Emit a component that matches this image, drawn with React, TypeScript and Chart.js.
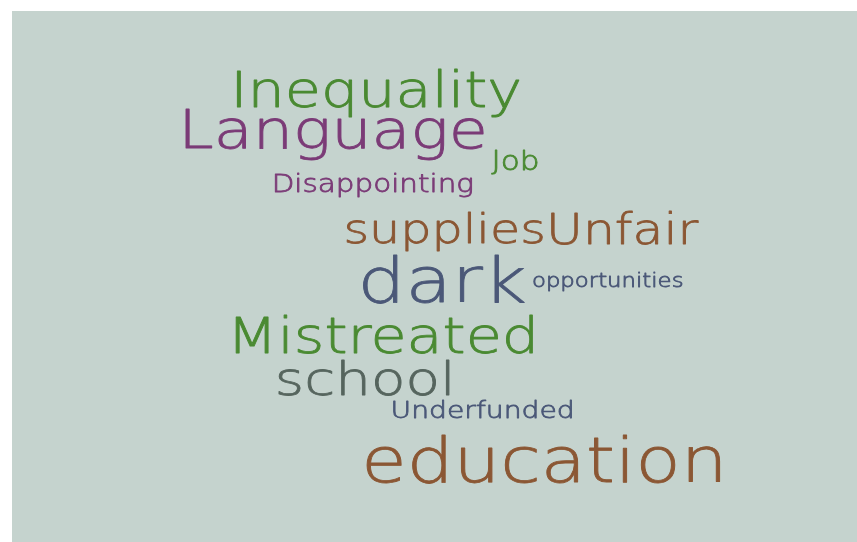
import React, { useEffect, useRef } from "react";
import { Chart, registerables } from "chart.js";

Chart.register(...registerables);

// ---- data ----
const words = [
  "Inequality",
  "Language",
  "Job",
  "Disappointing",
  "supplies",
  "Unfair",
  "dark",
  "opportunities",
  "Mistreated",
  "school",
  "Underfunded",
  "education",
];
// word weight (frequency score)
const weights = [49, 53, 26, 24.5, 41, 42, 63, 19, 49, 47, 23.5, 61.5];
// layout position of each word in the cloud (0-100 units)
const posX = [43.1, 38.0, 59.6, 42.7, 51.2, 72.2, 50.9, 70.5, 43.9, 41.8, 55.7, 63.0];
const posY = [81.9, 74.2, 70.1, 65.9, 56.3, 56.1, 45.2, 48.0, 35.6, 27.7, 23.4, 11.3];
// colour group of each word
const groups = ["g", "p", "g", "p", "o", "o", "b", "b", "g", "s", "b", "o"];

// ---- styles ----
const palette: Record<string, string> = {
  g: "#4a8a32",
  p: "#7b3b77",
  o: "#8b5734",
  b: "#4b5878",
  s: "#56655e",
};
const BG = "#c5d3ce";
const FONT = "'DejaVu Sans', sans-serif";
const WEIGHT = 200;
const STRETCH = 1.2;
const OUTLINE = 0.8;

const cloudPlugin = {
  id: "cloud",
  beforeDraw(chart: any) {
    const { ctx, chartArea } = chart;
    ctx.save();
    ctx.fillStyle = BG;
    ctx.fillRect(chartArea.left, chartArea.top, chartArea.right - chartArea.left, chartArea.bottom - chartArea.top);
    ctx.restore();
  },
  afterDatasetsDraw(chart: any) {
    const { ctx } = chart;
    const meta = chart.getDatasetMeta(0);
    meta.data.forEach((el: any, i: number) => {
      const raw: any = chart.data.datasets[0].data[i];
      ctx.save();
      ctx.translate(el.x, el.y);
      ctx.scale(STRETCH, 1);
      ctx.font = `${WEIGHT} ${raw.w}px ${FONT}`;
      ctx.fillStyle = palette[raw.g];
      ctx.strokeStyle = palette[raw.g];
      ctx.lineWidth = OUTLINE;
      ctx.lineJoin = "round";
      ctx.textAlign = "center";
      ctx.textBaseline = "alphabetic";
      ctx.fillText(raw.t, 0, 0);
      ctx.strokeText(raw.t, 0, 0);
      ctx.restore();
    });
  },
};

export default function App() {
  const ref = useRef<HTMLCanvasElement | null>(null);
  useEffect(() => {
    document.body.style.margin = "0";
    const data = words.map((t, i) => ({ x: posX[i], y: posY[i], t, w: weights[i], g: groups[i] }));
    const chart = new Chart(ref.current as HTMLCanvasElement, {
      type: "scatter",
      data: { datasets: [{ data, pointRadius: 0, pointHoverRadius: 0 }] },
      options: {
        animation: false,
        responsive: false,
        events: [],
        layout: { padding: { left: 12, top: 11, right: 0, bottom: 0 } },
        plugins: { legend: { display: false }, tooltip: { enabled: false } },
        scales: {
          x: { type: "linear", min: 0, max: 100, display: false },
          y: { type: "linear", min: 0, max: 100, display: false },
        },
      },
      plugins: [cloudPlugin],
    });
    return () => chart.destroy();
  }, []);
  return (
    <div style={{ width: 857, height: 542 }}>
      <canvas ref={ref} width={857} height={542} style={{ display: "block" }} />
    </div>
  );
}
